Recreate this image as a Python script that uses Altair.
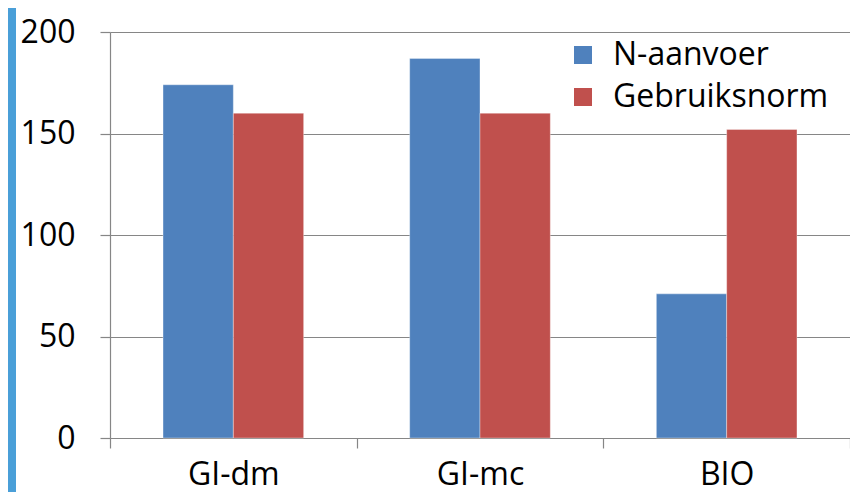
import altair as alt
import pandas as pd

categories = ["GI-dm", "GI-mc", "BIO"]
series = ["N-aanvoer", "Gebruiksnorm"]
n_aanvoer = [174, 187, 71]
gebruiksnorm = [160, 160, 152]
y_ticks = [0, 50, 100, 150, 200]
colors = ["#4F81BD", "#C0504D"]

rows = []
for c, a, g in zip(categories, n_aanvoer, gebruiksnorm):
    rows.append({"cat": c, "series": series[0], "value": a})
    rows.append({"cat": c, "series": series[1], "value": g})
df = pd.DataFrame(rows)

FONT = "Open Sans"
FS = 32
W, H = 740, 406
PAD = {"left": 102, "top": 24, "right": 0, "bottom": 54}

bars = alt.Chart(df).mark_bar(stroke="white", strokeWidth=0.6, strokeOpacity=0.6).encode(
    x=alt.X("cat:N", sort=categories,
            scale=alt.Scale(paddingInner=0, paddingOuter=0),
            axis=alt.Axis(title=None, labelAngle=0, tickBand="extent", grid=False,
                          tickSize=10, labelPadding=11, labelFontSize=FS,
                          labelFont=FONT, labelColor="black",
                          domainColor="#868686", tickColor="#868686",
                          domainWidth=1.2, tickWidth=1.2)),
    xOffset=alt.XOffset("series:N", sort=series,
                        scale=alt.Scale(paddingInner=0, paddingOuter=0.754)),
    y=alt.Y("value:Q", scale=alt.Scale(domain=[0, 200], nice=False),
            axis=alt.Axis(title=None, values=y_ticks, tickSize=10, labelPadding=25,
                          labelFontSize=FS, labelFont=FONT, labelColor="black",
                          grid=True, gridColor="#868686", gridWidth=1.2,
                          domainColor="#868686", tickColor="#868686",
                          domainWidth=1.2, tickWidth=1.2)),
    color=alt.Color("series:N", sort=series,
                    scale=alt.Scale(domain=series, range=colors),
                    legend=alt.Legend(title=None, orient="none", legendX=457, legendY=7,
                                      symbolType="square", symbolSize=324,
                                      symbolStrokeWidth=0, labelFontSize=FS,
                                      labelFont=FONT, labelColor="black", labelLimit=400,
                                      labelOffset=14, rowPadding=10, padding=0)),
)

frame = pd.DataFrame({"k": [0]})
left_strip = alt.Chart(frame).mark_rect(color="#4A9FD8").encode(
    x=alt.value(-102), x2=alt.value(-94), y=alt.value(-24), y2=alt.value(H + 54))

chart = alt.layer(left_strip, bars).properties(
    width=W, height=H,
    autosize=alt.AutoSizeParams(type="none"),
    padding=PAD,
).configure(background="white").configure_view(stroke=None)

chart.save("out.html", embed_options={"renderer": "svg", "actions": False})
